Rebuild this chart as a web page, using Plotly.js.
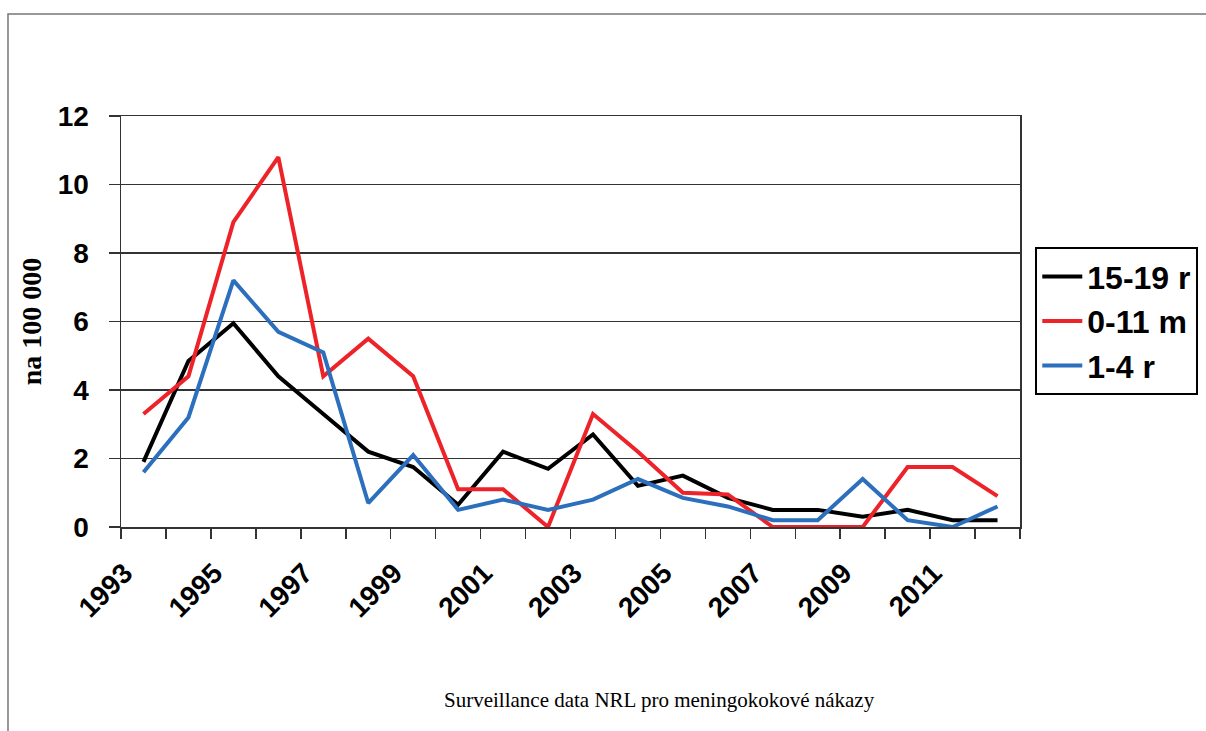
<!DOCTYPE html>
<html>
<head>
<meta charset="utf-8">
<script src="https://cdn.plot.ly/plotly-3.0.1.min.js"></script>
<style>
  html, body { margin: 0; padding: 0; background: #fff; }
  #chart { width: 1206px; height: 731px; }
</style>
</head>
<body>
<div id="chart"></div>
<script>
const years = [1993,1994,1995,1996,1997,1998,1999,2000,2001,2002,2003,2004,2005,2006,2007,2008,2009,2010,2011,2012];
const teen = [1.9,4.85,5.95,4.4,3.3,2.2,1.75,0.65,2.2,1.7,2.7,1.2,1.5,0.85,0.5,0.5,0.3,0.5,0.2,0.2];
const infant = [3.3,4.4,8.9,10.8,4.4,5.5,4.4,1.1,1.1,0.0,3.3,2.2,1.0,0.95,0.0,0.0,0.0,1.75,1.75,0.9];
const toddler = [1.6,3.2,7.2,5.7,5.1,0.7,2.1,0.5,0.8,0.5,0.8,1.4,0.85,0.6,0.2,0.2,1.4,0.2,0.0,0.6];
const seriesNames = ['15-19 r','0-11 m','1-4 r'];
const tickYears = [1993,1995,1997,1999,2001,2003,2005,2007,2009,2011];
const yTitle = 'na 100 000';
const caption = 'Surveillance data NRL pro meningokokové nákazy';

const sans = 'Liberation Sans, Arial, sans-serif';
const serif = 'Liberation Serif, Times New Roman, serif';
const axisCol = '#333';

const traces = [
  {x: years, y: teen, name: seriesNames[0], type: 'scatter', mode: 'lines', line: {color: '#000000', width: 4}},
  {x: years, y: infant, name: seriesNames[1], type: 'scatter', mode: 'lines', line: {color: '#ee2229', width: 4}},
  {x: years, y: toddler, name: seriesNames[2], type: 'scatter', mode: 'lines', line: {color: '#2b6fbd', width: 4}}
];

const layout = {
  width: 1206, height: 731,
  margin: {l: 121, r: 186, t: 116, b: 204, autoexpand: false},
  paper_bgcolor: '#fff', plot_bgcolor: '#fff',
  showlegend: true,
  legend: {
    x: 1.017, y: 0.681, xanchor: 'left', yanchor: 'top',
    bordercolor: '#000', borderwidth: 2, bgcolor: '#fff',
    font: {family: sans, size: 32, color: '#000', weight: 'bold'},
    itemwidth: 40, tracegroupgap: 0
  },
  xaxis: {
    type: 'linear', range: [1992.5, 2012.5],
    tickmode: 'array', tickvals: tickYears, ticktext: tickYears.map(String),
    ticks: '', tickangle: -45, ticklabelstandoff: 17, ticklabelshift: -19,
    tickfont: {family: sans, size: 28, color: '#000', weight: 'bold'},
    showgrid: false, zeroline: false,
    showline: true, linecolor: axisCol, linewidth: 1.5, mirror: true,
    minor: {tick0: 1992.5, dtick: 1, ticks: 'outside', ticklen: 10, tickwidth: 1.5, tickcolor: axisCol, showgrid: false},
    fixedrange: true
  },
  yaxis: {
    range: [0, 12], dtick: 2, tick0: 0,
    ticks: 'outside', ticklen: 11, tickwidth: 1.5, tickcolor: axisCol,
    ticklabelstandoff: 14,
    tickfont: {family: sans, size: 28, color: '#000', weight: 'bold'},
    showgrid: true, gridcolor: axisCol, gridwidth: 1.5, zeroline: false,
    showline: true, linecolor: axisCol, linewidth: 1.5, mirror: true,
    title: {text: yTitle, font: {family: serif, size: 28, color: '#000', weight: 'bold'}, standoff: 8},
    fixedrange: true
  },
  annotations: [{
    text: caption, xref: 'paper', yref: 'paper', x: 0.599, y: -0.421,
    xanchor: 'center', yanchor: 'middle', showarrow: false,
    font: {family: serif, size: 21, color: '#000'}
  }],
  shapes: [{
    type: 'rect', xref: 'paper', yref: 'paper', x0: -0.1257, x1: 1.4, y0: -0.7, y1: 1.248,
    line: {color: '#777', width: 1.5}, fillcolor: 'rgba(0,0,0,0)', layer: 'below'
  }]
};

Plotly.newPlot('chart', traces, layout, {displayModeBar: false, staticPlot: true});
</script>
</body>
</html>
